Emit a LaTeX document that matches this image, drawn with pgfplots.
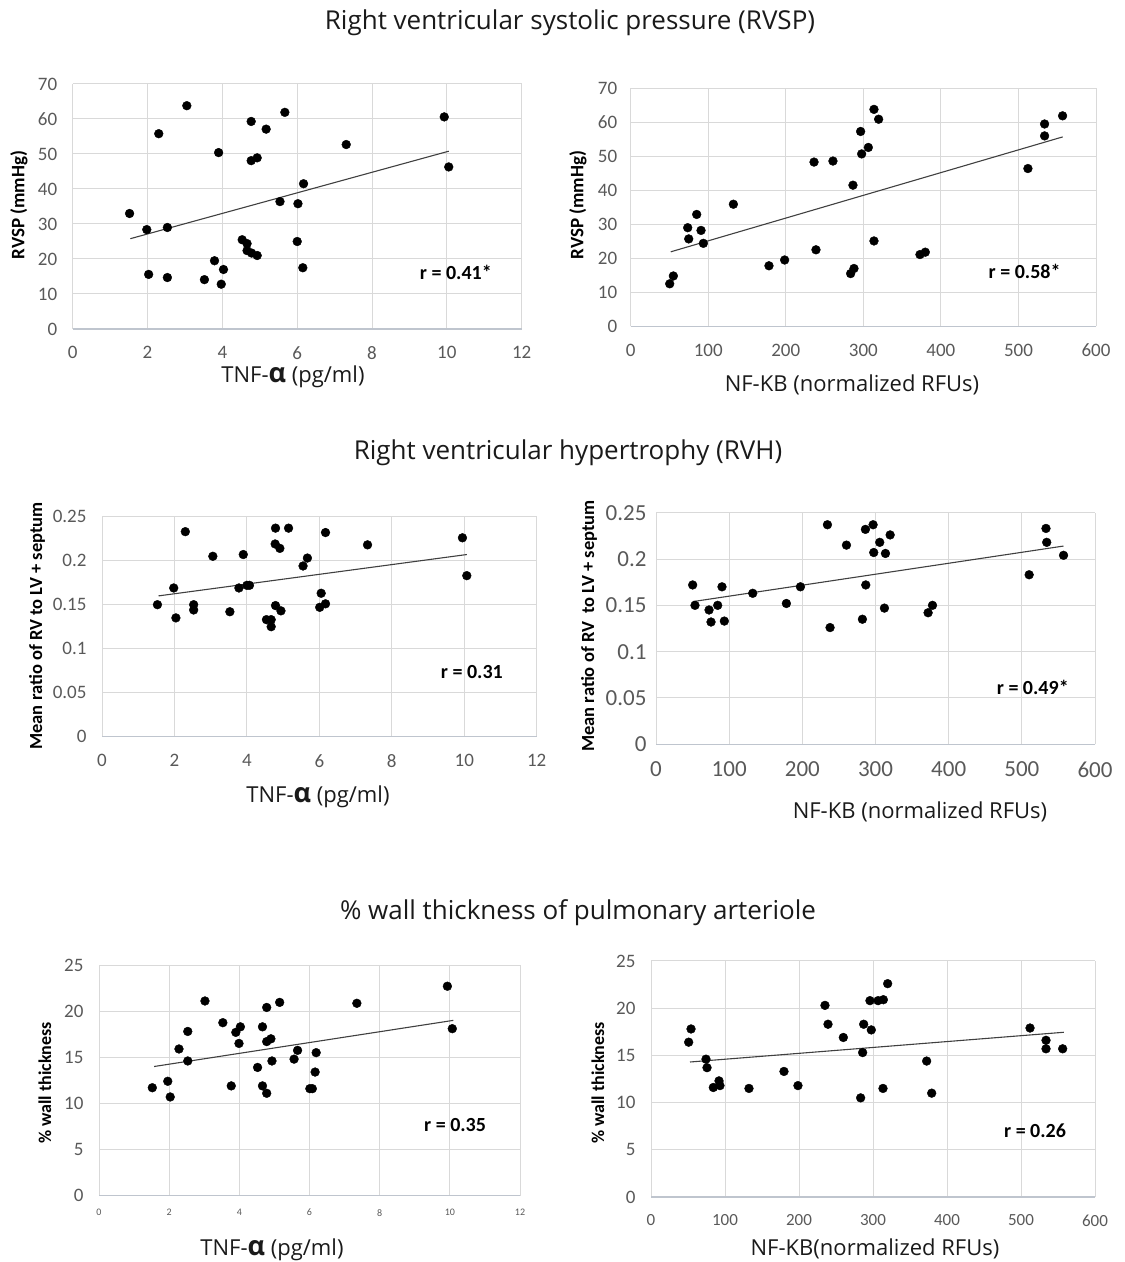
\documentclass[border=0pt]{standalone}
\usepackage{fontspec}
\setmainfont{Carlito}
\newfontfamily\osans{Open Sans}
\usepackage{pgfplots}
\pgfplotsset{compat=1.18}
\definecolor{gridc}{HTML}{D9D9D9}
\definecolor{axisc}{HTML}{BFC5CE}
\definecolor{tickc}{HTML}{595959}
\definecolor{trendc}{HTML}{404040}
\definecolor{headc}{HTML}{1A1A1A}
\pgfplotsset{
  panel/.style={scale only axis, grid=major,
    major grid style={draw=gridc, line width=1pt},
    axis line style={draw=none}, tick style={draw=none},
    /pgf/number format/assume math mode=true,
    tick label style={color=tickc},
    yticklabel style={xshift=-12pt}, xticklabel style={yshift=-14pt},
    clip=false},
  pts/.style={only marks, mark=*, mark size=4.4pt, mark options={fill=black, draw=black}},
  trend/.style={no marks, draw=trendc, line width=1.1pt},
}
\newcommand{\fs}[1]{\fontsize{#1}{#1}\selectfont}
\newcommand{\tnf}{TNF-{\fontsize{27}{27}\selectfont\bfseries α} (pg/ml)}
\begin{document}
\begin{tikzpicture}[x=1pt,y=1pt]
\path[use as bounding box] (0pt,0pt) rectangle (1125pt,1262pt);
% headings
\node[font=\osans\fs{26}, text=headc] at (570pt,1239pt) {Right ventricular systolic pressure (RVSP)};
\node[font=\osans\fs{26}, text=headc] at (568pt,809pt) {Right ventricular hypertrophy (RVH)};
\node[font=\osans\fs{26}, text=headc] at (578pt,349pt) {\% wall thickness of pulmonary arteriole};

% ---------- Panel 1
\begin{axis}[panel, at={(72.7pt,933pt)}, anchor=south west, width=449pt, height=245pt,
  xmin=0, xmax=12, ymin=0, ymax=70, xtick={0,2,...,12}, ytick={0,10,...,70},
  tick label style={font=\fs{19}}]
\draw[axisc, line width=1.2pt] (axis cs:0,0) -- (axis cs:12,0);
\addplot[pts] coordinates {
(1.52,33.0) (1.98,28.4) (2.53,29.0) (2.03,15.6) (2.53,14.7) (2.30,55.8)
(3.05,63.8) (3.90,50.4) (3.79,19.5) (3.52,14.1) (4.03,17.0) (3.97,12.8)
(4.77,59.3) (5.17,57.1) (4.77,48.1) (4.93,48.9) (4.53,25.5) (4.66,24.4)
(4.66,22.4) (4.78,21.7) (4.93,21.0) (5.67,61.9) (5.54,36.4) (6.02,35.8)
(6.17,41.5) (6.00,25.0) (6.15,17.5) (7.31,52.7) (9.93,60.6) (10.05,46.3)};
\addplot[trend] coordinates {(1.54,25.8) (10.05,50.8)};
\node[font=\bfseries\fs{20}] at (axis cs:10.24,16.3) {r = 0.41*};
\end{axis}
\node[font=\osans\fs{22}, text=headc] at (293pt,885pt) {\tnf};
\node[font=\bfseries\fs{19}, rotate=90] at (19pt,1057pt) {RVSP (mmHg)};

% ---------- Panel 2
\begin{axis}[panel, at={(630.7pt,935.7pt)}, anchor=south west, width=465.3pt, height=238pt,
  xmin=0, xmax=600, ymin=0, ymax=70, xtick={0,100,...,600}, ytick={0,10,...,70},
  tick label style={font=\fs{19}}, yticklabel style={xshift=2pt}]
\draw[axisc, line width=1.2pt] (axis cs:0,0) -- (axis cs:600,0);
\addplot[pts] coordinates {
(50.3,12.5) (55.0,14.8) (73.5,29.0) (74.8,25.7) (85.1,32.9) (90.7,28.2)
(93.7,24.4) (132.4,35.9) (178.3,17.8) (198.5,19.5) (236.4,48.3) (238.9,22.5)
(260.8,48.6) (283.6,15.5) (287.9,17.0) (286.6,41.5) (296.5,57.3) (297.8,50.7)
(306.4,52.6) (313.7,63.8) (319.7,60.9) (313.7,25.1) (373.0,21.1) (379.9,21.8)
(512.2,46.4) (533.7,59.5) (533.7,56.0) (556.9,61.9)};
\addplot[trend] coordinates {(51.6,21.9) (557,55.7)};
\node[font=\bfseries\fs{20}] at (axis cs:508,16.0) {r = 0.58*};
\end{axis}
\node[font=\osans\fs{22}, text=headc] at (852pt,877pt) {NF-KB (normalized RFUs)};
\node[font=\bfseries\fs{19}, rotate=90] at (578pt,1057pt) {RVSP (mmHg)};

% ---------- Panel 3
\begin{axis}[panel, at={(102pt,525.3pt)}, anchor=south west, width=434.7pt, height=220pt,
  xmin=0, xmax=12, ymin=0, ymax=0.25, xtick={0,2,...,12},
  ytick={0,0.05,0.1,0.15,0.2,0.25}, yticklabels={0,0.05,0.1,0.15,0.2,0.25},
  tick label style={font=\fs{19}}]
\draw[axisc, line width=1.2pt] (axis cs:0,0) -- (axis cs:12,0);
\addplot[pts] coordinates {
(1.53,0.150) (1.98,0.169) (2.04,0.135) (2.30,0.233) (2.53,0.150) (2.53,0.144)
(3.06,0.205) (3.53,0.142) (3.78,0.169) (3.90,0.207) (4.00,0.172) (4.07,0.172)
(4.54,0.133) (4.67,0.133) (4.67,0.125) (4.79,0.237) (4.78,0.219) (4.91,0.214)
(4.79,0.149) (4.94,0.143) (5.15,0.237) (5.55,0.194) (5.67,0.203) (6.05,0.163)
(6.01,0.147) (6.17,0.151) (6.17,0.232) (7.33,0.218) (9.95,0.226) (10.07,0.183)};
\addplot[trend] coordinates {(1.56,0.160) (10.07,0.207)};
\node[font=\bfseries\fs{20}] at (axis cs:10.21,0.0735) {r = 0.31};
\end{axis}
\node[font=\osans\fs{22}, text=headc] at (318pt,465pt) {\tnf};
\node[font=\bfseries\fs{18.5}, rotate=90] at (37pt,636pt) {Mean ratio of RV to LV + septum};

% ---------- Panel 4
\begin{axis}[panel, at={(656pt,517.7pt)}, anchor=south west, width=439pt, height=231.6pt,
  xmin=0, xmax=600, ymin=0, ymax=0.25, xtick={0,100,...,600},
  ytick={0,0.05,0.1,0.15,0.2,0.25}, yticklabels={0,0.05,0.1,0.15,0.2,0.25},
  tick label style={font=\fs{23}}, yticklabel style={xshift=6pt}]
\draw[axisc, line width=1.2pt] (axis cs:0,0) -- (axis cs:600,0);
\addplot[pts] coordinates {
(50.1,0.172) (53.3,0.150) (72.5,0.145) (75.2,0.132) (84.3,0.150) (90.2,0.170)
(93.4,0.133) (132.2,0.163) (178.2,0.152) (197.4,0.170) (234.3,0.237) (237.9,0.126)
(260.3,0.215) (282.1,0.135) (286.2,0.232) (286.7,0.172) (296.7,0.237) (297.6,0.207)
(305.8,0.218) (313.6,0.206) (312.2,0.147) (320.0,0.226) (371.9,0.142) (377.9,0.150)
(510,0.183) (533,0.233) (534,0.218) (557,0.204)};
\addplot[trend] coordinates {(50,0.154) (557,0.214)};
\node[font=\bfseries\fs{20}] at (axis cs:515,0.0619) {r = 0.49*};
\end{axis}
\node[font=\osans\fs{22}, text=headc] at (920pt,450pt) {NF-KB (normalized RFUs)};
\node[font=\bfseries\fs{18.5}, rotate=90] at (589pt,636pt) {Mean ratio of RV\ \ to LV + septum};

% ---------- Panel 5
\begin{axis}[panel, at={(99pt,66.3pt)}, anchor=south west, width=421pt, height=230.7pt,
  xmin=0, xmax=12, ymin=0, ymax=25, xtick={0,2,...,12}, ytick={0,5,...,25},
  yticklabel style={font=\fs{19}}, xticklabel style={font=\fs{10}, yshift=4pt}]
\draw[axisc, line width=1.2pt] (axis cs:0,0) -- (axis cs:12,0);
\addplot[pts] coordinates {
(1.52,11.7) (1.96,12.4) (2.03,10.7) (2.28,15.9) (2.53,17.8) (2.53,14.6)
(3.02,21.1) (3.53,18.75) (3.77,11.9) (3.90,17.7) (4.03,18.3) (3.99,16.5)
(4.52,13.9) (4.66,18.3) (4.66,11.9) (4.78,20.4) (4.78,16.7) (4.90,17.0)
(4.78,11.1) (4.93,14.6) (5.15,20.95) (5.56,14.8) (5.66,15.75) (6.01,11.6)
(6.08,11.6) (6.16,13.4) (6.19,15.5) (7.35,20.85) (9.93,22.7) (10.07,18.1)};
\addplot[trend] coordinates {(1.57,14.0) (10.1,19.0)};
\node[font=\bfseries\fs{20}] at (axis cs:10.15,7.66) {r = 0.35};
\end{axis}
\node[font=\osans\fs{22}, text=headc] at (272pt,12pt) {\tnf};
\node[font=\bfseries\fs{18}, rotate=90] at (45pt,179pt) {\% wall thickness};

% ---------- Panel 6
\begin{axis}[panel, at={(651pt,65pt)}, anchor=south west, width=444pt, height=236pt,
  xmin=0, xmax=600, ymin=0, ymax=25, xtick={0,100,...,600}, ytick={0,5,...,25},
  yticklabel style={font=\fs{19}}, xticklabel style={font=\fs{17}}]
\draw[axisc, line width=1.2pt] (axis cs:0,0) -- (axis cs:600,0);
\addplot[pts] coordinates {
(50.9,16.4) (54.1,17.8) (74.3,14.6) (75.7,13.7) (84.2,11.6) (91.9,12.3)
(93.2,11.8) (132.4,11.5) (179.7,13.3) (198.6,11.8) (235.1,20.3) (239.2,18.3)
(259.9,16.9) (283.3,10.5) (286.0,15.3) (287.4,18.3) (295.9,20.8) (297.7,17.7)
(306.8,20.8) (314.0,20.9) (313.5,11.5) (319.8,22.6) (372.5,14.4) (379.3,11.0)
(512.2,17.9) (533.8,16.6) (533.8,15.7) (556.3,15.7)};
\addplot[trend] coordinates {(52.7,14.3) (558,17.45)};
\node[font=\bfseries\fs{20}] at (axis cs:519,7.0) {r = 0.26};
\end{axis}
\node[font=\osans\fs{22}, text=headc] at (875pt,13pt) {NF-KB(normalized RFUs)};
\node[font=\bfseries\fs{18}, rotate=90] at (598pt,179pt) {\% wall thickness};
\end{tikzpicture}
\end{document}
